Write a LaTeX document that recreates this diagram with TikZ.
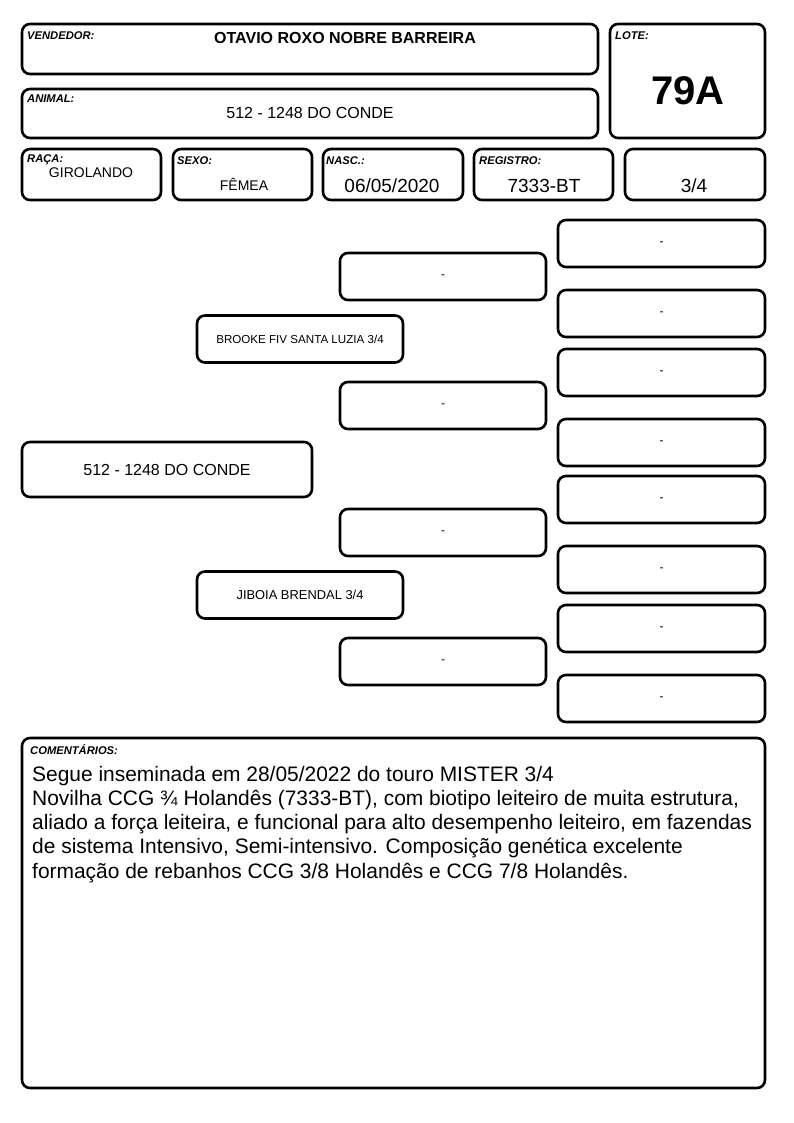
\documentclass[tikz,border=0pt]{standalone}
\usepackage{fontspec}
\setmainfont{Liberation Sans}
\begin{document}
\begin{tikzpicture}[x=1pt,y=-1pt,
  box/.style={draw, line width=2.6pt, rounded corners=8pt, inner sep=0pt},
  lbl/.style={anchor=north west, inner sep=0pt, font=\fontsize{11.2}{12}\selectfont\bfseries\itshape},
  val/.style={inner sep=0pt, font=\fontsize{#1}{#1}\selectfont},
  bval/.style={inner sep=0pt, font=\fontsize{#1}{#1}\selectfont\bfseries},
  pbox/.style={box, minimum width=206pt, minimum height=47pt, font=\fontsize{12}{12}\selectfont},
  gbox/.style={box, minimum width=207pt, minimum height=47pt, font=\fontsize{12}{12}\selectfont},
  cline/.style={anchor=base west, inner sep=0pt, font=\fontsize{20.95}{24.3}\selectfont}
]
\useasboundingbox (0,0) rectangle (794,1123);
% header boxes
\node[box, minimum width=576pt, minimum height=50pt] (vend) at (310,49) {};
\node[box, minimum width=576pt, minimum height=49pt] (anim) at (310,113.5) {};
\node[box, minimum width=155pt, minimum height=114pt] (lote) at (687.5,81) {};
\node[box, minimum width=139pt, minimum height=51pt] (raca) at (91.5,174.5) {};
\node[box, minimum width=139pt, minimum height=51pt] (sexo) at (242.5,174.5) {};
\node[box, minimum width=140pt, minimum height=51pt] (nasc) at (393,174.5) {};
\node[box, minimum width=139pt, minimum height=51pt] (reg) at (543.5,174.5) {};
\node[box, minimum width=140pt, minimum height=51pt] (frac) at (695,174.5) {};
% header labels
\node[lbl] (lvend) at (27,31) {VENDEDOR:};
\node[lbl] (lanim) at (27,95) {ANIMAL:};
\node[lbl] (llote) at (615,31) {LOTE:};
\node[lbl] (lraca) at (27,154) {RAÇA:};
\node[lbl] (lsexo) at (177,156) {SEXO:};
\node[lbl] (lnasc) at (326,156) {NASC.:};
\node[lbl] (lreg) at (479,156) {REGISTRO:};
% header values
\node[bval=16] (tvend) at (345,38) {OTAVIO ROXO NOBRE BARREIRA};
\node[val=16] (tanim) at (310,113) {512 - 1248 DO CONDE};
\node[bval=40] (tlote) at (688,91) {79A};
\node[val=14] (traca) at (91,172.5) {GIROLANDO};
\node[val=14] (tsexo) at (244,184) {FÊMEA};
\node[val=19] (tnasc) at (392,186) {06/05/2020};
\node[val=19] (treg) at (544,186) {7333-BT};
\node[val=19] (tfrac) at (694,186) {3/4};
% pedigree
\node[box, minimum width=290pt, minimum height=55pt, font=\fontsize{16}{16}\selectfont] (main) at (167,469.5) {512 - 1248 DO CONDE};
\node[pbox, font=\fontsize{11.6}{12}\selectfont] (sire) at (300,339) {BROOKE FIV SANTA LUZIA 3/4};
\node[pbox, font=\fontsize{12.9}{13}\selectfont] (dam) at (300,595) {JIBOIA BRENDAL 3/4};
\node[pbox] (gp1) at (443,276.5) {-};
\node[pbox] (gp2) at (443,405.5) {-};
\node[pbox] (gp3) at (443,532.5) {-};
\node[pbox] (gp4) at (443,661.5) {-};
\node[gbox] (gg1) at (661.5,243.5) {-};
\node[gbox] (gg2) at (661.5,313.5) {-};
\node[gbox] (gg3) at (661.5,372.5) {-};
\node[gbox] (gg4) at (661.5,442.5) {-};
\node[gbox] (gg5) at (661.5,499.5) {-};
\node[gbox] (gg6) at (661.5,569.5) {-};
\node[gbox] (gg7) at (661.5,628.5) {-};
\node[gbox] (gg8) at (661.5,698.5) {-};
% comments
\node[box, minimum width=743pt, minimum height=350pt] (com) at (393.5,913) {};
\node[lbl] (lcom) at (30,744) {COMENTÁRIOS:};
\node[cline] (c1) at (32,781) {Segue inseminada em 28/05/2022 do touro MISTER 3/4};
\node[cline] (c2) at (32,805.3) {Novilha CCG ¾ Holandês (7333-BT), com biotipo leiteiro de muita estrutura,};
\node[cline] (c3) at (32,829.6) {aliado a força leiteira, e funcional para alto desempenho leiteiro, em fazendas};
\node[cline] (c4) at (32,853.9) {de sistema Intensivo, Semi-intensivo. Composição genética excelente};
\node[cline] (c5) at (32,878.2) {formação de rebanhos CCG 3/8 Holandês e CCG 7/8 Holandês.};
\end{tikzpicture}
\end{document}
